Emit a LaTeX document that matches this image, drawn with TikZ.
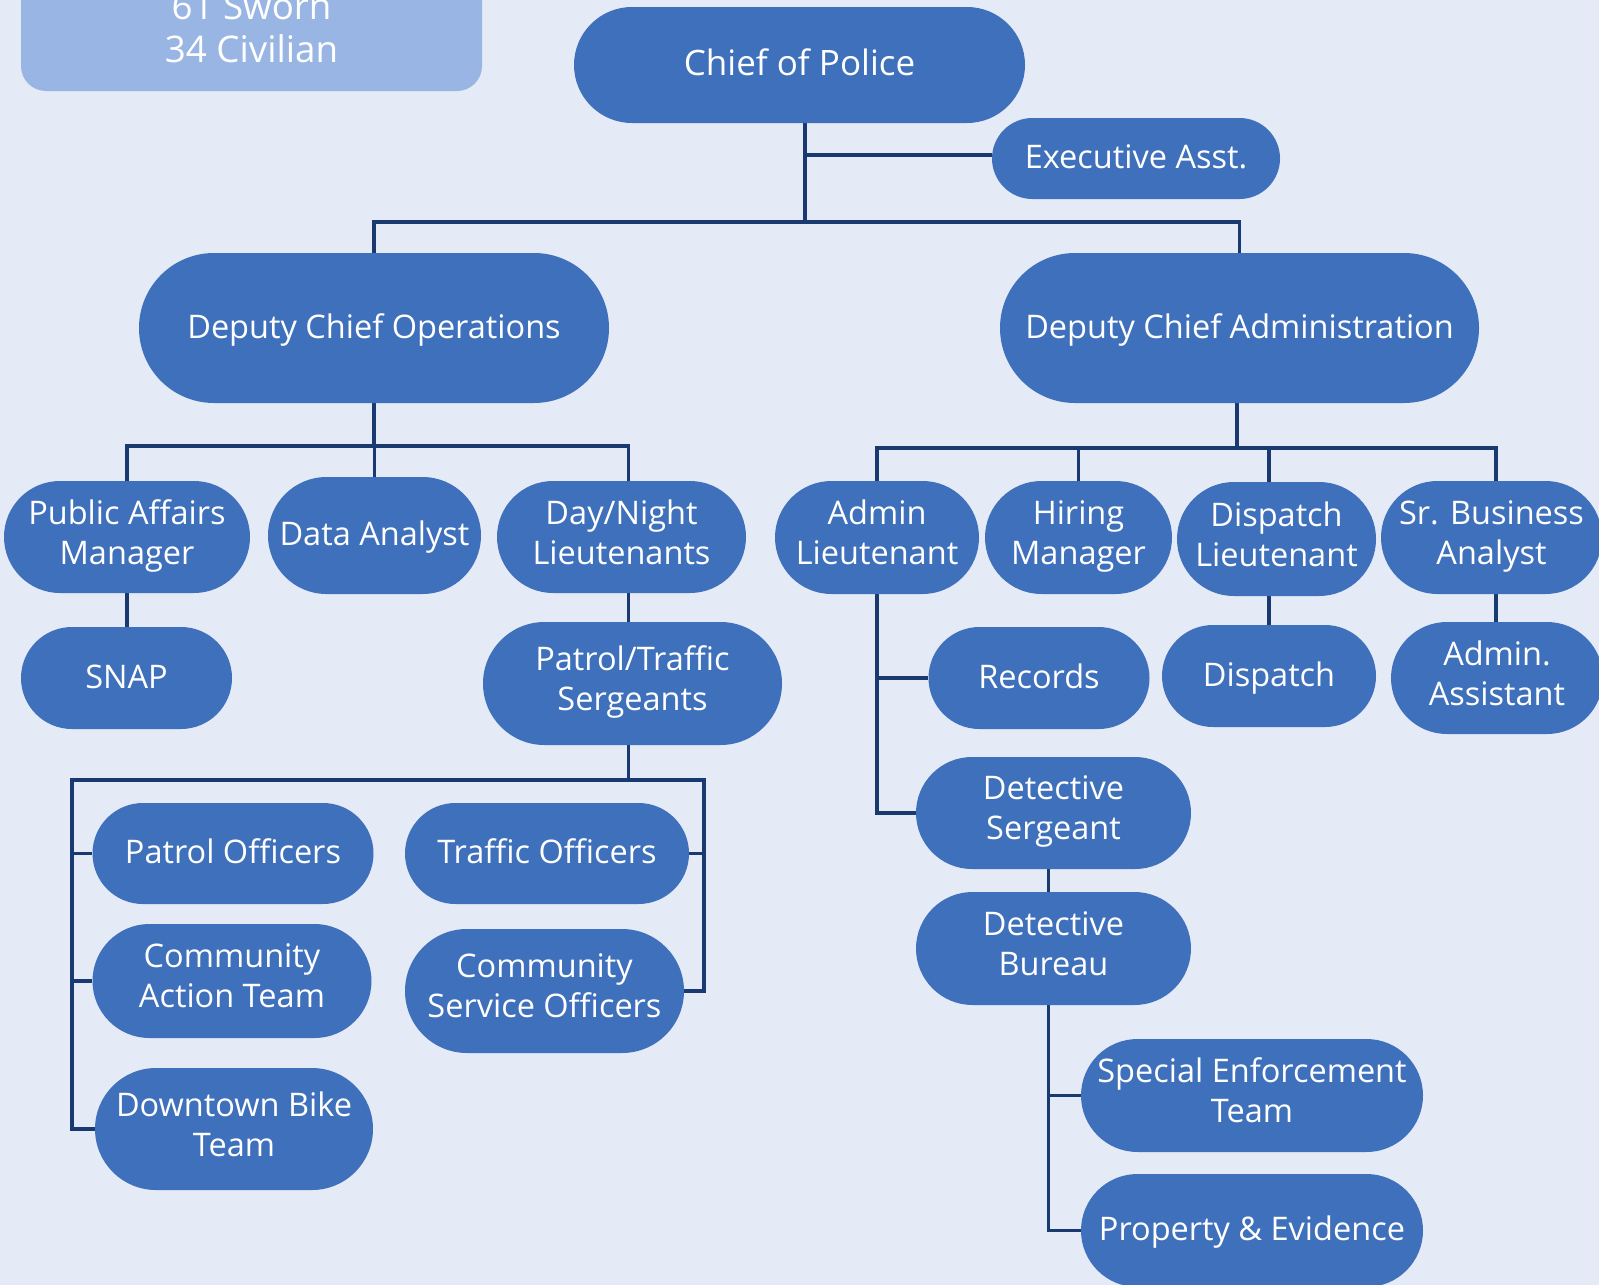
\documentclass[tikz,border=0pt]{standalone}
\usepackage{fontspec}
\setmainfont{Open Sans}
\usetikzlibrary{backgrounds,calc}
\definecolor{bgc}{RGB}{228,234,246}
\definecolor{nodeblue}{RGB}{63,112,188}
\definecolor{infoblue}{RGB}{152,181,227}
\definecolor{linec}{RGB}{24,58,112}
\newcommand\pillstrut{\rule[-0.3077em]{0pt}{1.2308em}}
\tikzset{
  pill/.style={rectangle, fill=nodeblue, text=white, inner sep=0pt, align=center,
    font=\fontsize{32.5}{40}\selectfont,
    execute at begin node=\pillstrut, execute at end node=\pillstrut},
  sz/.style 2 args={minimum width=#1, minimum height=#2, rounded corners=0.5*#2-0.01},
  conn/.style={draw=linec, line width=3.4pt},
}
\begin{document}
\begin{tikzpicture}[x=1pt,y=-1pt]
\useasboundingbox (0,0) rectangle (1599,1285);
\clip (0,0) rectangle (1599,1285);
\begin{scope}[on background layer]
\fill[bgc] (0,0) rectangle (1599,1285);
\end{scope}

% info box
\node[rectangle, fill=infoblue, text=white, inner sep=0pt, align=center,
  minimum width=461, minimum height=125.4, rounded corners=25,
  font=\fontsize{36.7}{43}\selectfont] (info) at (251.5,28.3) {61 Sworn\\34 Civilian};

% nodes
\node[pill, sz={451}{116}, font=\fontsize{35}{42}\selectfont] (chief) at (799.5,65) {Chief of Police};
\node[pill, sz={288}{81}] (exec) at (1136,158.5) {Executive Asst.};
\node[pill, sz={470}{150}] (dops) at (374,328) {Deputy Chief Operations};
\node[pill, sz={479}{150}] (dadm) at (1239.5,328) {Deputy Chief Administration};

\node[pill, sz={246}{112}] (pam) at (127,537) {Public Affairs\\Manager};
\node[pill, sz={213}{117}] (da) at (374.5,535.5) {Data Analyst};
\node[pill, sz={249}{112}] (dnl) at (621.5,537) {Day/Night\\Lieutenants};
\node[pill, sz={211}{102}] (snap) at (126.5,678) {SNAP};
\node[pill, sz={299}{123}] (pts) at (632.5,683.5) {Patrol/Traffic\\Sergeants};

\node[pill, sz={204}{113}] (al) at (877,537.5) {Admin\\Lieutenant};
\node[pill, sz={187}{113}] (hm) at (1078.5,537.5) {Hiring\\Manager};
\node[pill, sz={199}{114}] (dl) at (1276.5,539) {Dispatch\\Lieutenant};
\node[pill, sz={221}{113}] (sba) at (1491.5,537.5) {Sr. Business\\Analyst};
\node[pill, sz={221}{102}] (rec) at (1039,678) {Records};
\node[pill, sz={214}{102}] (disp) at (1269,676) {Dispatch};
\node[pill, sz={212}{112}] (aa) at (1497,678) {Admin.\\Assistant};
\node[pill, sz={275}{112}] (ds) at (1053.5,813) {Detective\\Sergeant};
\node[pill, sz={275}{113}] (db) at (1053.5,948.5) {Detective\\Bureau};
\node[pill, sz={342}{113}] (set) at (1252,1095.5) {Special Enforcement\\Team};
\node[pill, sz={342}{113}] (pe) at (1252,1230.5) {Property \& Evidence};

\node[pill, sz={281}{101}] (po) at (233,853.5) {Patrol Officers};
\node[pill, sz={279}{114}] (cat) at (232,981) {Community\\Action Team};
\node[pill, sz={278}{122}] (dbt) at (234,1129) {Downtown Bike\\Team};
\node[pill, sz={284}{101}] (to) at (547,853.5) {Traffic Officers};
\node[pill, sz={279}{124}] (cso) at (544.5,991) {Community\\Service Officers};

% connectors
\begin{scope}[on background layer]
\coordinate (j0) at (805,222);
\coordinate (je) at (805,155);
\draw[conn] (j0 |- chief.south) -- (j0);
\draw[conn] (je) -- (je -| exec.west);
\draw[conn] (dops.north) |- (j0) -| (dadm.north);

\coordinate (j1) at (374,446);
\coordinate (jd) at (628.5,446);
\draw[conn] (dops.south) -- (dops.south |- j1);
\draw[conn] (pam.north) |- (jd) -- (jd |- dnl.north);
\draw[conn] (da.north) -- (da.north |- j1);
\draw[conn] (pam.south) -- (pam.south |- snap.north);
\draw[conn] (jd |- dnl.south) -- (jd |- pts.north);

\coordinate (j2) at (628.5,780);
\coordinate (jl) at (72,780);
\coordinate (jr) at (704,780);
\draw[conn] (j2 |- pts.south) -- (j2);
\draw[conn] (dbt.west) -| (jl) -- (jr) |- (cso.east);
\draw[conn] (jl |- po.west) -- (po.west);
\draw[conn] (jl |- cat.west) -- (cat.west);
\draw[conn] (jr |- to.east) -- (to.east);

\coordinate (j3) at (1237,448);
\coordinate (jdl) at (1269,448);
\coordinate (jsb) at (1496,448);
\draw[conn] (j3 |- dadm.south) -- (j3);
\draw[conn] (al.north) |- (jsb) -- (jsb |- sba.north);
\draw[conn] (hm.north) -- (hm.north |- j3);
\draw[conn] (jdl) -- (jdl |- dl.north);
\draw[conn] (jdl |- dl.south) -- (jdl |- disp.north);
\draw[conn] (jsb |- sba.south) -- (jsb |- aa.north);
\draw[conn] (al.south) |- (ds.west);
\draw[conn] (al.south |- rec.west) -- (rec.west);

\coordinate (jdb) at (1048.5,1000);
\draw[conn] (jdb |- ds.south) -- (jdb |- db.north);
\draw[conn] (jdb |- db.south) |- (pe.west);
\draw[conn] (jdb |- set.west) -- (set.west);
\end{scope}
\end{tikzpicture}
\end{document}
